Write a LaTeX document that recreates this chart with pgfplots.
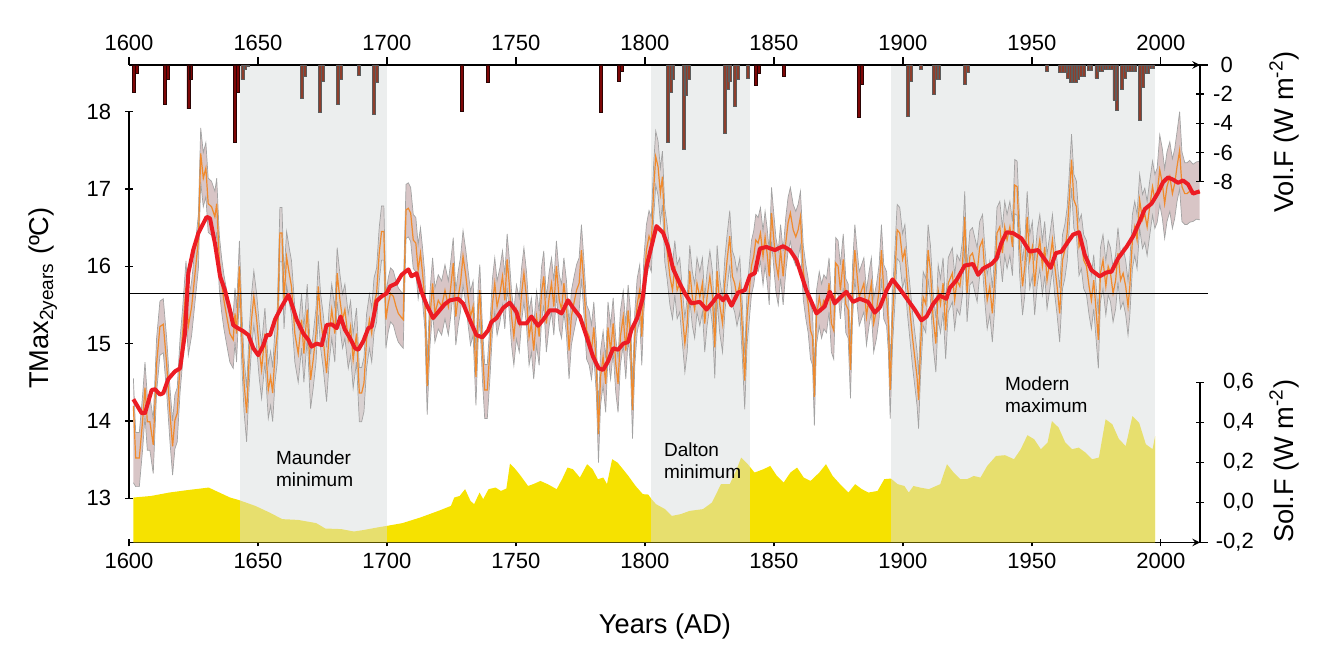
\documentclass[border=0pt]{standalone}
\usepackage{fontspec}
\setmainfont{Liberation Sans}
\usepackage{pgfplots}
\pgfplotsset{compat=1.18}
\usepackage{pgfplotstable}
\usepgfplotslibrary{fillbetween}

\definecolor{bandfill}{HTML}{D8C5C6}
\definecolor{bandedge}{HTML}{A3A3A3}
\definecolor{tmorange}{HTML}{F08A2C}
\definecolor{tmred}{HTML}{EC1C24}
\definecolor{solyellow}{HTML}{F6E200}
\definecolor{shadeov}{HTML}{DADDDD}
\definecolor{volred}{HTML}{7E0606}
\definecolor{voldark}{HTML}{2A0505}
\definecolor{volbrown}{HTML}{8E3E2C}
\definecolor{volgrey}{HTML}{5C5C5C}

% annual TMax (orange) with its band
\pgfplotstableread{
year t lo hi
1601.7 14.19 13.20 14.55
1602.6 13.52 13.15 13.85
1604.0 13.52 13.15 13.85
1605.3 14.01 13.64 14.34
1606.2 14.43 14.06 14.76
1607.1 13.99 13.62 14.32
1608.1 13.99 13.62 14.32
1609.4 13.69 13.32 14.02
1610.7 14.74 14.37 15.07
1612.0 15.22 14.85 15.55
1613.3 15.25 14.88 15.58
1614.6 14.74 14.37 15.07
1615.9 14.09 13.72 14.42
1616.9 13.67 13.30 14.00
1617.8 14.01 13.64 14.34
1618.7 14.10 13.73 14.43
1619.8 14.74 14.37 15.07
1620.8 15.13 14.76 15.46
1622.1 15.74 15.37 16.07
1623.0 15.22 14.85 15.55
1624.3 15.48 15.11 15.81
1625.6 15.91 15.54 16.24
1626.9 16.34 15.97 16.67
1627.8 17.46 17.09 17.79
1628.8 17.14 16.77 17.47
1629.8 17.27 16.90 17.60
1630.7 16.81 16.44 17.14
1632.0 16.77 16.40 17.10
1633.3 16.64 16.27 16.97
1634.0 16.81 16.44 17.14
1635.0 16.08 15.71 16.41
1635.9 15.78 15.41 16.11
1636.8 15.56 15.19 15.89
1637.9 15.35 14.98 15.68
1639.1 15.13 14.76 15.46
1640.4 15.05 14.68 15.38
1641.1 15.39 15.02 15.72
1641.7 15.13 14.76 15.46
1642.8 16.00 15.63 16.33
1643.7 15.13 14.76 15.46
1644.6 14.49 14.12 14.82
1645.6 14.10 13.73 14.43
1646.6 14.83 14.46 15.16
1647.5 15.31 14.94 15.64
1648.4 15.61 15.24 15.94
1649.5 15.31 14.94 15.64
1650.5 14.92 14.55 15.25
1651.4 14.66 14.29 14.99
1652.7 15.13 14.76 15.46
1654.0 14.40 14.03 14.73
1654.9 14.57 14.20 14.90
1655.7 14.36 13.99 14.69
1656.6 14.87 14.50 15.20
1657.5 15.13 14.76 15.46
1658.5 16.43 16.06 16.76
1659.3 16.43 16.06 16.76
1660.1 15.56 15.19 15.89
1661.1 16.12 15.75 16.45
1662.1 15.91 15.54 16.24
1663.0 15.74 15.37 16.07
1664.3 15.13 14.76 15.46
1665.6 14.87 14.50 15.20
1666.9 15.31 14.94 15.64
1667.8 14.87 14.50 15.20
1669.1 15.44 15.07 15.77
1670.4 14.53 14.16 14.86
1671.4 14.79 14.42 15.12
1672.5 15.13 14.76 15.46
1673.4 15.74 15.37 16.07
1674.3 15.31 14.94 15.64
1675.3 15.05 14.68 15.38
1676.6 14.62 14.25 14.95
1677.6 15.13 14.76 15.46
1678.6 15.44 15.07 15.77
1679.8 15.13 14.76 15.46
1680.7 15.91 15.54 16.24
1681.8 15.56 15.19 15.89
1682.8 15.31 14.94 15.64
1683.7 15.44 15.07 15.77
1685.0 15.05 14.68 15.38
1685.9 15.22 14.85 15.55
1686.9 14.79 14.42 15.12
1688.2 15.13 14.76 15.46
1689.3 14.36 13.99 14.69
1690.2 14.36 13.99 14.69
1691.1 14.49 14.12 14.82
1692.1 15.05 14.68 15.38
1693.2 15.31 14.94 15.64
1694.1 15.13 14.76 15.46
1695.0 15.52 15.15 15.85
1696.0 15.65 15.28 15.98
1697.0 16.17 15.80 16.50
1697.9 16.45 16.08 16.78
1698.8 16.45 16.08 16.78
1699.6 15.31 14.94 15.64
1700.5 15.52 15.15 15.85
1701.4 15.65 15.28 15.98
1702.5 15.61 15.24 15.94
1703.5 15.48 15.11 15.81
1704.4 15.39 15.02 15.72
1705.3 15.35 14.98 15.68
1706.3 15.31 14.94 15.64
1707.4 16.73 16.36 17.06
1708.3 16.75 16.38 17.08
1709.2 16.69 16.32 17.02
1710.2 16.34 15.97 16.67
1711.2 16.30 15.93 16.63
1712.1 15.95 15.58 16.28
1713.0 16.17 15.80 16.50
1713.8 15.91 15.54 16.24
1714.7 15.56 15.19 15.89
1715.6 14.45 14.08 14.78
1716.7 15.35 14.98 15.68
1717.7 15.78 15.41 16.11
1718.6 15.39 15.02 15.72
1719.9 15.56 15.19 15.89
1721.2 15.48 15.11 15.81
1722.5 15.69 15.32 16.02
1723.8 15.48 15.11 15.81
1724.6 15.69 15.32 16.02
1725.7 16.04 15.67 16.37
1726.7 15.35 14.98 15.68
1727.6 15.60 15.23 15.93
1728.5 15.78 15.41 16.11
1729.5 16.13 15.76 16.46
1730.6 15.87 15.50 16.20
1731.5 15.60 15.23 15.93
1732.4 15.35 14.98 15.68
1733.4 15.48 15.11 15.81
1734.5 14.57 14.20 14.90
1735.4 15.43 15.06 15.76
1736.0 15.69 15.32 16.02
1737.0 14.91 14.54 15.24
1737.9 14.40 14.03 14.73
1738.9 14.40 14.03 14.73
1739.9 14.91 14.54 15.24
1740.9 15.51 15.14 15.84
1741.8 15.78 15.41 16.11
1742.7 15.48 15.11 15.81
1743.8 15.65 15.28 15.98
1744.8 15.87 15.50 16.20
1745.7 15.56 15.19 15.89
1746.6 16.09 15.72 16.42
1747.4 15.78 15.41 16.11
1748.3 15.35 14.98 15.68
1749.2 15.09 14.72 15.42
1750.2 15.43 15.06 15.76
1751.3 15.26 14.89 15.59
1752.2 15.65 15.28 15.98
1753.1 15.91 15.54 16.24
1754.1 15.60 15.23 15.93
1755.1 15.09 14.72 15.42
1756.0 15.26 14.89 15.59
1756.9 14.91 14.54 15.24
1758.0 15.35 14.98 15.68
1759.0 15.09 14.72 15.42
1759.9 15.65 15.28 15.98
1760.8 15.87 15.50 16.20
1761.8 15.26 14.89 15.59
1762.9 15.60 15.23 15.93
1763.8 15.78 15.41 16.11
1764.7 15.48 15.11 15.81
1765.7 16.00 15.63 16.33
1766.8 15.56 15.19 15.89
1767.7 15.44 15.07 15.77
1768.6 15.78 15.41 16.11
1769.6 15.48 15.11 15.81
1770.6 14.91 14.54 15.24
1771.5 15.35 14.98 15.68
1772.4 15.51 15.14 15.84
1773.5 15.69 15.32 16.02
1774.5 15.78 15.41 16.11
1775.4 16.21 15.84 16.54
1776.3 15.78 15.41 16.11
1777.4 15.17 14.80 15.50
1778.4 15.09 14.72 15.42
1779.3 14.91 14.54 15.24
1780.2 15.21 14.84 15.54
1781.2 14.70 14.33 15.03
1782.0 13.83 13.46 14.16
1782.8 14.57 14.20 14.90
1783.8 14.83 14.46 15.16
1784.8 14.48 14.11 14.81
1785.7 15.21 14.84 15.54
1786.7 14.91 14.54 15.24
1787.7 15.26 14.89 15.59
1788.7 14.74 14.37 15.07
1789.6 14.48 14.11 14.81
1790.5 15.09 14.72 15.42
1791.6 15.35 14.98 15.68
1792.6 14.91 14.54 15.24
1793.5 15.43 15.06 15.76
1794.4 15.09 14.72 15.42
1795.2 14.14 13.77 14.47
1796.1 15.09 14.72 15.42
1797.0 15.51 15.14 15.84
1798.0 15.69 15.32 16.02
1798.8 15.09 14.72 15.42
1799.6 15.78 15.41 16.11
1800.6 16.21 15.84 16.54
1801.6 16.39 16.02 16.72
1802.5 16.30 15.93 16.63
1803.4 16.99 16.62 17.32
1804.2 17.42 17.05 17.75
1805.1 17.29 16.92 17.62
1806.0 16.94 16.57 17.27
1806.8 17.16 16.79 17.49
1807.7 16.43 16.06 16.76
1808.6 16.21 15.84 16.54
1809.7 15.87 15.50 16.20
1810.7 15.69 15.32 16.02
1811.6 16.00 15.63 16.33
1812.5 15.69 15.32 16.02
1813.5 15.78 15.41 16.11
1814.6 15.35 14.98 15.68
1815.5 15.00 14.63 15.33
1816.4 15.26 14.89 15.59
1817.4 15.94 15.57 16.27
1818.4 15.60 15.23 15.93
1819.3 15.44 15.07 15.77
1820.2 15.78 15.41 16.11
1821.3 15.60 15.23 15.93
1822.3 15.78 15.41 16.11
1823.2 15.26 14.89 15.59
1824.1 15.60 15.23 15.93
1825.2 15.87 15.50 16.20
1826.2 15.60 15.23 15.93
1827.1 14.95 14.55 15.28
1828.0 15.94 15.57 16.27
1829.0 15.51 15.14 15.84
1830.1 15.26 14.89 15.59
1831.0 15.78 15.41 16.11
1831.9 16.09 15.72 16.42
1832.9 16.39 16.02 16.72
1833.9 15.87 15.50 16.20
1834.8 15.78 15.41 16.11
1835.7 15.60 15.23 15.93
1836.8 15.78 15.41 16.11
1837.8 15.17 14.80 15.50
1838.7 14.52 14.15 14.85
1839.6 15.35 14.98 15.68
1840.4 15.65 15.28 15.98
1841.3 16.00 15.63 16.33
1842.2 16.13 15.76 16.46
1843.0 16.34 15.97 16.67
1843.9 16.30 15.93 16.63
1844.8 16.43 16.06 16.76
1845.8 16.13 15.76 16.46
1846.6 16.38 16.01 16.71
1847.4 16.16 15.79 16.49
1848.2 15.87 15.50 16.20
1849.1 16.69 16.32 17.02
1850.0 16.34 15.97 16.67
1850.8 16.04 15.67 16.37
1851.7 15.87 15.50 16.20
1852.6 16.21 15.84 16.54
1853.6 15.87 15.50 16.20
1854.6 16.30 15.93 16.63
1855.5 16.56 16.19 16.89
1856.4 16.69 16.32 17.02
1857.5 16.47 16.10 16.80
1858.5 16.38 16.01 16.71
1859.4 16.47 16.10 16.80
1860.3 16.64 16.27 16.97
1861.4 15.94 15.57 16.27
1862.4 15.69 15.32 16.02
1863.3 15.51 15.14 15.84
1864.2 15.17 14.80 15.50
1865.0 15.09 14.72 15.42
1865.7 14.31 13.94 14.64
1866.5 15.35 14.98 15.68
1867.6 15.60 15.23 15.93
1868.5 15.44 15.07 15.77
1869.4 15.56 15.19 15.89
1870.4 15.51 15.14 15.84
1871.4 15.78 15.41 16.11
1872.3 15.26 14.89 15.59
1873.2 15.17 14.80 15.50
1874.0 16.04 15.67 16.37
1874.9 16.00 15.63 16.33
1875.8 15.69 15.32 16.02
1876.9 16.09 15.72 16.42
1877.9 15.51 15.14 15.84
1878.8 15.44 15.07 15.77
1879.7 14.66 14.29 14.99
1880.5 15.69 15.32 16.02
1881.4 16.21 15.84 16.54
1882.3 15.87 15.50 16.20
1883.1 15.60 15.23 15.93
1884.0 15.69 15.32 16.02
1884.9 15.78 15.41 16.11
1885.9 15.35 14.98 15.68
1886.9 15.60 15.23 15.93
1887.8 15.78 15.41 16.11
1888.7 15.26 14.89 15.59
1889.8 15.44 15.07 15.77
1890.8 15.69 15.32 16.02
1891.7 16.21 15.84 16.54
1892.6 15.69 15.32 16.02
1893.7 15.60 15.23 15.93
1894.4 15.26 14.89 15.59
1895.1 14.40 14.03 14.73
1896.0 15.35 14.98 15.68
1896.9 15.87 15.50 16.20
1897.8 16.47 16.10 16.80
1898.8 16.43 16.06 16.76
1899.9 16.09 15.72 16.42
1900.8 16.21 15.84 16.54
1901.7 15.78 15.41 16.11
1902.7 15.44 15.07 15.77
1903.7 15.09 14.72 15.42
1904.6 14.83 14.46 15.16
1905.5 14.57 14.20 14.90
1906.1 14.27 13.90 14.60
1906.8 14.91 14.54 15.24
1907.9 15.60 15.23 15.93
1908.9 15.51 15.14 15.84
1909.8 16.21 15.84 16.54
1910.7 15.94 15.57 16.27
1911.7 15.35 14.98 15.68
1912.8 15.00 14.63 15.33
1913.7 15.69 15.32 16.02
1914.6 15.51 15.14 15.84
1915.6 15.78 15.41 16.11
1916.6 15.17 14.80 15.50
1917.6 15.78 15.41 16.11
1919.2 15.91 15.54 16.24
1920.1 15.56 15.19 15.89
1921.0 15.82 15.45 16.15
1922.1 15.74 15.37 16.07
1923.1 16.00 15.63 16.33
1924.0 16.64 16.27 16.97
1924.9 15.65 15.28 15.98
1926.0 16.13 15.76 16.46
1927.0 16.17 15.80 16.50
1927.9 16.04 15.67 16.37
1928.8 15.91 15.54 16.24
1929.8 16.25 15.88 16.58
1930.9 16.34 15.97 16.67
1931.8 15.91 15.54 16.24
1932.7 15.56 15.19 15.89
1933.7 15.74 15.37 16.07
1934.7 15.39 15.02 15.72
1935.6 15.82 15.45 16.15
1936.5 16.43 16.06 16.76
1937.6 16.51 16.14 16.84
1938.6 16.17 15.80 16.50
1939.5 16.51 16.14 16.84
1940.4 16.34 15.97 16.67
1941.5 16.51 16.14 16.84
1942.5 16.25 15.88 16.58
1943.4 17.05 16.68 17.38
1944.3 17.03 16.66 17.36
1945.3 16.25 15.88 16.58
1946.4 15.74 15.37 16.07
1947.3 16.00 15.63 16.33
1948.2 16.64 16.27 16.97
1949.2 16.08 15.71 16.41
1950.2 16.25 15.88 16.58
1951.1 15.74 15.37 16.07
1952.1 16.13 15.76 16.46
1953.1 16.34 15.97 16.67
1954.1 16.00 15.63 16.33
1955.0 16.25 15.88 16.58
1955.9 15.82 15.45 16.15
1957.0 16.08 15.71 16.41
1958.0 16.34 15.97 16.67
1958.9 16.00 15.63 16.33
1959.8 15.74 15.37 16.07
1960.8 15.39 15.02 15.72
1961.9 16.08 15.71 16.41
1962.8 16.21 15.84 16.54
1963.7 16.43 16.06 16.76
1964.5 16.86 16.49 17.19
1965.4 17.38 17.01 17.71
1966.3 16.86 16.49 17.19
1967.3 16.77 16.40 17.10
1968.3 16.25 15.88 16.58
1969.2 16.34 15.97 16.67
1970.1 16.08 15.71 16.41
1971.2 16.00 15.63 16.33
1972.2 15.74 15.37 16.07
1973.1 15.56 15.19 15.89
1974.0 15.82 15.45 16.15
1975.0 15.39 15.02 15.72
1975.8 15.05 14.68 15.38
1976.6 15.91 15.54 16.24
1977.6 16.08 15.71 16.41
1978.7 15.74 15.37 16.07
1979.6 16.00 15.63 16.33
1980.5 15.91 15.54 16.24
1981.5 15.65 15.28 15.98
1982.5 15.82 15.45 16.15
1983.4 16.17 15.80 16.50
1984.4 15.82 15.45 16.15
1985.4 15.91 15.54 16.24
1986.4 15.74 15.37 16.07
1987.3 15.48 15.11 15.81
1988.0 15.74 15.37 16.07
1989.0 16.34 15.97 16.67
1989.9 16.51 16.14 16.84
1990.8 16.34 15.97 16.67
1991.8 16.86 16.49 17.19
1992.9 16.60 16.23 16.93
1993.8 16.68 16.31 17.01
1994.7 16.51 16.14 16.84
1995.7 16.77 16.40 17.10
1996.8 17.03 16.66 17.36
1997.7 16.86 16.49 17.19
1998.6 16.94 16.57 17.27
1999.6 17.25 16.80 17.70
2000.6 17.07 16.62 17.52
2001.5 16.81 16.36 17.26
2002.4 17.03 16.58 17.48
2003.5 17.16 16.71 17.61
2004.5 16.94 16.49 17.39
2005.4 17.07 16.62 17.52
2006.3 17.29 16.84 17.74
2007.3 17.50 17.00 18.00
2008.2 17.03 16.58 17.48
2009.3 16.94 16.54 17.34
2010.2 16.94 16.54 17.34
2011.2 16.97 16.57 17.37
2012.5 16.94 16.58 17.32
2013.8 16.97 16.61 17.35
2015.1 16.94 16.60 17.36
}\tmaxdata

% smoothed TMax (red)
\pgfplotstableread{
year t
1601.7 14.28
1604.9 14.10
1606.2 14.10
1608.8 14.40
1610.1 14.41
1612.0 14.34
1613.3 14.36
1615.2 14.54
1617.8 14.64
1619.8 14.68
1621.7 15.13
1623.0 15.91
1624.9 16.21
1626.9 16.43
1630.1 16.64
1631.4 16.62
1633.3 16.30
1635.3 15.87
1637.2 15.69
1639.1 15.44
1640.4 15.24
1641.7 15.21
1644.3 15.16
1646.3 15.11
1648.2 14.94
1650.1 14.85
1652.1 14.98
1653.4 15.11
1654.7 15.11
1656.6 15.31
1659.2 15.48
1661.8 15.63
1663.0 15.52
1665.0 15.31
1667.6 15.13
1669.5 15.05
1670.8 14.96
1672.7 15.00
1674.7 14.98
1676.6 15.24
1678.6 15.25
1680.5 15.20
1682.0 15.35
1683.7 15.18
1685.7 15.07
1687.6 14.94
1688.9 14.92
1690.8 15.03
1692.8 15.20
1694.1 15.22
1696.0 15.55
1697.9 15.61
1699.9 15.65
1701.2 15.74
1703.7 15.78
1705.7 15.89
1708.3 15.96
1709.5 15.87
1711.5 15.91
1713.4 15.67
1715.4 15.50
1717.9 15.33
1719.9 15.41
1722.4 15.51
1724.4 15.56
1727.6 15.58
1729.5 15.52
1732.1 15.31
1734.7 15.11
1737.0 15.08
1739.2 15.17
1740.5 15.28
1742.5 15.33
1745.0 15.46
1747.6 15.53
1750.2 15.41
1751.5 15.26
1754.1 15.26
1756.0 15.35
1758.6 15.23
1760.6 15.31
1763.1 15.43
1765.7 15.43
1767.7 15.39
1770.2 15.56
1772.2 15.46
1774.8 15.35
1777.4 15.09
1779.9 14.83
1782.1 14.68
1783.8 14.66
1785.7 14.77
1787.7 14.94
1789.6 14.92
1791.6 15.00
1793.5 15.02
1794.8 15.18
1797.0 15.33
1799.1 15.58
1800.6 15.99
1802.5 16.25
1804.5 16.52
1807.1 16.43
1809.0 16.25
1810.9 15.97
1813.5 15.78
1815.5 15.65
1818.0 15.52
1821.3 15.54
1823.9 15.44
1826.4 15.54
1828.4 15.63
1830.3 15.56
1831.6 15.62
1833.6 15.49
1836.1 15.66
1838.7 15.69
1840.7 15.88
1842.6 15.91
1844.6 16.23
1847.1 16.25
1850.4 16.21
1853.6 16.26
1856.2 16.21
1858.8 16.08
1862.6 15.69
1866.5 15.39
1869.7 15.48
1871.7 15.67
1873.6 15.52
1876.2 15.61
1878.1 15.67
1880.7 15.54
1883.3 15.58
1886.5 15.54
1889.1 15.40
1891.1 15.47
1893.7 15.69
1896.0 15.83
1898.8 15.71
1902.0 15.56
1904.6 15.44
1907.2 15.30
1909.2 15.35
1911.7 15.51
1914.3 15.62
1916.9 15.58
1918.2 15.72
1920.8 15.82
1924.0 16.01
1927.2 16.03
1929.2 15.89
1931.1 15.97
1934.4 16.03
1936.3 16.10
1938.2 16.30
1940.2 16.44
1942.7 16.43
1946.0 16.36
1949.2 16.19
1952.4 16.21
1955.0 16.09
1957.3 15.98
1959.3 16.17
1961.5 16.19
1964.1 16.32
1966.0 16.41
1968.3 16.44
1970.5 16.15
1973.1 15.95
1976.3 15.87
1978.9 15.92
1980.9 15.93
1983.4 16.10
1986.7 16.25
1989.3 16.39
1991.8 16.58
1993.8 16.74
1996.4 16.81
1998.9 16.95
2000.9 17.09
2002.8 17.15
2004.8 17.12
2006.7 17.08
2008.6 17.11
2010.6 17.06
2012.5 16.94
2015.1 16.97
}\reddata

% solar forcing
\pgfplotstableread{
year s
1601.7 -0.2
1601.7 0.025
1608.6 0.033
1615.6 0.050
1622.5 0.062
1630.9 0.075
1633.7 0.058
1639.2 0.025
1642.7 0.012
1649.0 -0.017
1654.5 -0.050
1659.4 -0.083
1665.6 -0.087
1672.6 -0.103
1676.1 -0.130
1682.3 -0.133
1687.2 -0.145
1690.7 -0.138
1696.2 -0.125
1699.9 -0.117
1706.0 -0.103
1712.9 -0.075
1719.9 -0.042
1724.8 -0.017
1726.1 0.025
1728.2 0.033
1730.3 0.067
1732.4 0.008
1733.8 -0.008
1735.9 0.050
1737.3 0.017
1739.4 0.067
1742.1 0.075
1744.2 0.058
1746.3 0.070
1747.7 0.195
1749.8 0.167
1751.9 0.133
1754.7 0.083
1756.7 0.092
1759.5 0.108
1762.3 0.092
1765.8 0.067
1767.9 0.117
1770.0 0.175
1772.1 0.167
1774.8 0.125
1777.6 0.192
1779.7 0.167
1781.8 0.117
1783.9 0.125
1785.3 0.092
1787.3 0.217
1789.4 0.200
1791.5 0.167
1793.6 0.133
1796.4 0.083
1799.2 0.042
1801.3 0.040
1802.6 0.017
1804.3 -0.008
1807.8 -0.033
1810.4 -0.067
1813.9 -0.058
1817.3 -0.042
1822.5 -0.033
1826.0 0.000
1829.5 0.092
1832.9 0.092
1835.6 0.167
1837.3 0.225
1839.9 0.192
1842.5 0.150
1846.0 0.167
1848.6 0.183
1851.2 0.133
1853.8 0.100
1856.4 0.150
1859.0 0.175
1861.6 0.125
1864.2 0.108
1867.6 0.150
1870.2 0.192
1872.8 0.133
1876.3 0.083
1878.9 0.050
1881.5 0.092
1884.1 0.067
1886.7 0.050
1890.2 0.058
1892.8 0.117
1895.4 0.120
1898.0 0.092
1900.6 0.083
1902.3 0.050
1904.1 0.083
1906.7 0.075
1910.1 0.067
1914.5 0.092
1917.1 0.192
1919.7 0.150
1922.3 0.117
1924.9 0.117
1927.5 0.133
1930.1 0.125
1932.7 0.183
1936.1 0.233
1939.6 0.237
1943.1 0.217
1945.7 0.267
1948.3 0.337
1950.9 0.317
1953.5 0.267
1956.1 0.300
1957.8 0.408
1960.4 0.375
1963.0 0.300
1965.6 0.267
1968.2 0.275
1970.8 0.250
1973.4 0.217
1976.0 0.225
1978.6 0.417
1981.2 0.392
1983.8 0.317
1986.4 0.283
1989.0 0.433
1991.6 0.400
1994.2 0.292
1996.8 0.267
1997.8 0.333
1997.8 -0.2
}\soldata

\pgfplotsset{
  base/.style={
    scale only axis, width=535.5pt, height=238.75pt,
    at={(0pt,0pt)}, anchor=south west,
    xmin=1600, xmax=2015.2, enlargelimits=false, clip=false,
    tick align=outside, major tick length=3.8pt,
    tick style={black, line width=0.7pt},
    axis line style={-, line width=0.7pt},
    tick label style={font=\fontsize{11}{13}\selectfont},
    /pgf/number format/assume math mode=true,
    /pgf/number format/1000 sep={},
  },
}

\begin{document}
\begin{tikzpicture}

% solar forcing + grey periods
\begin{axis}[base,
  ymin=-0.2, ymax=2.19,
  hide x axis, axis y line=right,
  y axis line style={draw=none},
  ytick={-0.2,0,0.2,0.4,0.6},
  yticklabels={{-0,2},{0,0},{0,2},{0,4},{0,6}},
  yticklabel style={anchor=east, inner sep=0pt, xshift=25.2pt},
]
\addplot[fill=solyellow, draw=none] table[x=year, y=s] {\soldata};
\fill[shadeov, opacity=0.5] (axis cs:1643,-0.2) rectangle (axis cs:1700.1,2.19);
\fill[shadeov, opacity=0.5] (axis cs:1802.2,-0.2) rectangle (axis cs:1840.9,2.19);
\fill[shadeov, opacity=0.5] (axis cs:1895.3,-0.2) rectangle (axis cs:1997.8,2.19);
\draw[line width=0.7pt] (axis cs:2015.2,-0.2) -- (axis cs:2015.2,0.6);
\end{axis}

% temperature
\begin{axis}[base,
  ymin=12.427, ymax=18.604,
  axis x line=bottom, axis y line=left,
  y axis line style={draw=none},
  xtick={1600,1650,...,2000},
  ytick={13,...,18},
  yticklabel style={xshift=-3.5pt},
]
\addplot[draw=none, name path=hi] table[x=year, y=hi] {\tmaxdata};
\addplot[draw=none, name path=lo] table[x=year, y=lo] {\tmaxdata};
\addplot[bandfill] fill between[of=hi and lo];
\addplot[bandedge, line width=0.35pt] table[x=year, y=hi] {\tmaxdata};
\addplot[bandedge, line width=0.35pt] table[x=year, y=lo] {\tmaxdata};
\addplot[tmorange, line width=0.6pt] table[x=year, y=t] {\tmaxdata};
\addplot[black, line width=0.7pt] coordinates {(1600,15.65) (2018.3,15.65)};
\addplot[tmred, line width=2pt, line join=round] table[x=year, y=t] {\reddata};
\draw[line width=0.7pt] (axis cs:1600,13) -- (axis cs:1600,18);
\draw[line width=0.7pt] (axis cs:2015,12.427) -- (axis cs:2018.3,12.427);
\end{axis}

% volcanic forcing
\begin{axis}[base,
  ymin=-32.73, ymax=0,
  axis x line=top, axis y line=right,
  y axis line style={draw=none},
  xtick={1600,1650,...,2000},
  ytick={-8,-6,-4,-2,0},
  yticklabels={-8,-6,-4,-2,0},
  yticklabel style={anchor=east, inner sep=0pt, xshift=14.7pt},
  ybar, bar width=1.5pt, bar shift=0pt,
]
\addplot[fill=volred, draw=voldark, line width=0.3pt] coordinates {
(1602,-1.9) (1603,-0.6) (1614,-2.7) (1615,-0.95) (1623,-3.0) (1624,-1.0)
(1641,-5.3) (1642,-1.9) (1729,-3.2) (1739,-1.2) (1783,-3.25) (1790,-1.1)
(1791,-0.4) (1843,-1.4) (1844,-0.6) (1854,-0.75) (1883,-3.6) (1884,-1.3)
};
\addplot[fill=volbrown, draw=volgrey, line width=0.3pt] coordinates {
(1644,-1.0) (1645,-0.3) (1646,-0.1) (1667,-2.3) (1668,-0.8) (1674,-3.25)
(1675,-1.1) (1681,-2.7) (1682,-0.95) (1689,-0.7) (1695,-3.35) (1696,-1.2)
(1809,-5.3) (1810,-1.9) (1811,-1.0) (1815,-5.8) (1816,-2.1) (1817,-1.0)
(1831,-4.7) (1832,-1.7) (1833,-1.1) (1835,-2.8) (1836,-1.0) (1840,-0.9)
(1902,-3.5) (1903,-1.15) (1907,-0.3) (1912,-2.0) (1913,-1.0) (1914,-1.0)
(1924,-1.3) (1925,-0.5) (1956,-0.45) (1961,-0.5) (1962,-0.5) (1963,-0.5)
(1964,-0.9) (1965,-1.2) (1966,-1.2) (1967,-1.2) (1968,-1.0) (1969,-0.75)
(1970,-0.75) (1972,-0.35) (1973,-0.35) (1975,-0.9) (1976,-0.45) (1977,-0.45)
(1978,-0.3) (1979,-0.3) (1980,-0.3) (1981,-0.3) (1982,-2.4) (1983,-3.1)
(1985,-1.7) (1986,-0.9) (1987,-0.4) (1988,-0.4) (1989,-0.4) (1990,-0.4)
(1992,-3.77) (1993,-1.5) (1994,-0.57) (1995,-0.57) (1996,-0.23) (1997,-0.23)
};
\draw[line width=0.7pt] (axis cs:2015.2,0) -- (axis cs:2015.2,-8);
\draw[line width=0.7pt] (axis cs:2015,0) -- (axis cs:2018.3,0);
\end{axis}

% period names and axis titles
\begin{scope}[every node/.style={font=\fontsize{9.5}{11}\selectfont, align=left, anchor=west}]
\node at (70pt,36.75pt) {Maunder\\minimum};
\node at (264pt,41pt) {Dalton\\minimum};
\node at (434.5pt,73.75pt) {Modern\\maximum};
\end{scope}
\begin{scope}[every node/.style={font=\fontsize{13.6}{16}\selectfont}]
\node at (268pt,-41.75pt) {Years (AD)};
\node[rotate=90] at (-43pt,122.25pt) {TMax\textsubscript{2years} (ºC)};
\node[rotate=90] at (577.5pt,205.25pt) {Vol.F (W m\textsuperscript{-2})};
\node[rotate=90] at (577.5pt,40.75pt) {Sol.F (W m\textsuperscript{-2})};
\end{scope}

\pgfresetboundingbox
\path[use as bounding box] (-64.5pt,-58.25pt) rectangle (600.5pt,271.25pt);
\end{tikzpicture}
\end{document}
